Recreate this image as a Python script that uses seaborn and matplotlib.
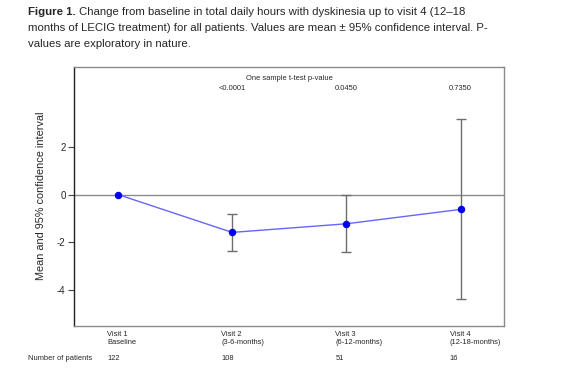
import matplotlib
matplotlib.use("Agg")
import matplotlib.pyplot as plt
import matplotlib.transforms as mtransforms
import seaborn as sns
import pandas as pd
import numpy as np

visits = ["Visit 1\nBaseline", "Visit 2\n(3-6-months)", "Visit 3\n(6-12-months)", "Visit 4\n(12-18-months)"]
means = [0.0, -1.58, -1.22, -0.62]
ci_lower = [np.nan, -2.34, -2.41, -4.35]
ci_upper = [np.nan, -0.81, -0.02, 3.13]
p_values = ["<0.0001", "0.0450", "0.7350"]
n_patients = ["122", "108", "51", "16"]

sns.set_theme(style="white")
plt.rcParams['font.family'] = ['Liberation Sans', 'DejaVu Sans']

fig = plt.figure(figsize=(5.66, 3.86), dpi=100)
ax = fig.add_axes([74/566, 1-325.7/386, (504-74)/566, (325.7-66.7)/386])

df = pd.DataFrame({"idx": np.arange(len(visits)), "mean": means,
                   "lo": ci_lower, "hi": ci_upper})

ax.axhline(0, color="#8c8c8c", lw=1.0, zorder=1)

err = df.dropna()
ax.errorbar(err["idx"], err["mean"],
            yerr=[err["mean"] - err["lo"], err["hi"] - err["mean"]],
            fmt="none", ecolor="#6e6e6e", elinewidth=1.0, capsize=3.5, capthick=1.0, zorder=2)

sns.lineplot(data=df, x="idx", y="mean", ax=ax, color="#6666ff", lw=1.0,
             marker="o", markersize=4.6, markerfacecolor="#0000ee",
             markeredgecolor="#0000ee", zorder=3)

ax.set_xlim(-0.385, 3.38)
ax.set_ylim(-5.47, 5.33)
ax.set_yticks([-4, -2, 0, 2])
ax.set_yticklabels(["-4", "-2", "0", "2"])
ax.set_xticks([])
ax.set_xlabel("")
ax.set_ylabel("Mean and 95% confidence interval", fontsize=7.8, labelpad=8)
ax.tick_params(axis="y", which="both", left=True, length=4, width=0.8,
               color="#444444", labelsize=7, pad=2)

for side in ["top", "right", "bottom"]:
    ax.spines[side].set_color("#8a8a8a")
    ax.spines[side].set_linewidth(1.0)
ax.spines["left"].set_color("#222222")
ax.spines["left"].set_linewidth(1.0)

small = 5.4
trans_px = mtransforms.blended_transform_factory(ax.transData, fig.transFigure)
fig.text(289/566, 1-78/386, "One sample t-test p-value", fontsize=small,
         ha="center", va="center")
for i, p in enumerate(p_values):
    ax.text(i + 1, 1-89/386, p, transform=trans_px, fontsize=small,
            ha="center", va="center")

for i, lab in enumerate(visits):
    t = mtransforms.offset_copy(trans_px, fig=fig, x=-11, y=0, units="dots")
    ax.text(i, 1-331/386, lab, transform=t, fontsize=small, ha="left", va="top",
            linespacing=1.15)
    ax.text(i, 1-358/386, n_patients[i], transform=t, fontsize=small,
            ha="left", va="center")
fig.text(28/566, 1-358/386, "Number of patients", fontsize=small, ha="left", va="center")

# caption
cap = 8.2
bold = fig.text(28/566, 1-12/386, "Figure 1.", fontsize=cap, fontweight="bold",
                ha="left", va="center")
fig.canvas.draw()
bb = bold.get_window_extent(renderer=fig.canvas.get_renderer())
fig.text((bb.x1 + 3) / fig.bbox.width, 1-12/386,
         "Change from baseline in total daily hours with dyskinesia up to visit 4 (12\u201318",
         fontsize=cap, ha="left", va="center")
fig.text(28/566, 1-28/386,
         "months of LECIG treatment) for all patients. Values are mean \u00b1 95% confidence interval. P-",
         fontsize=cap, ha="left", va="center")
fig.text(28/566, 1-44/386, "values are exploratory in nature.",
         fontsize=cap, ha="left", va="center")

fig.savefig("out.png", dpi=100)
